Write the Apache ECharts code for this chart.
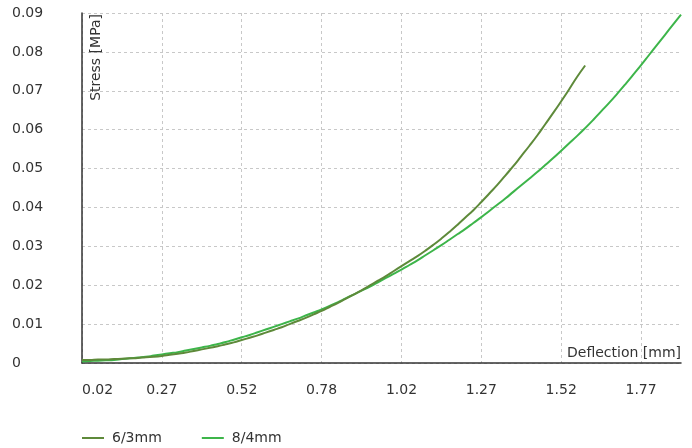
<!DOCTYPE html>
<html>
<head>
<meta charset="utf-8">
<script src="https://cdn.jsdelivr.net/npm/echarts@6/dist/echarts.min.js"></script>
<style>
html,body{margin:0;padding:0;background:#fff;}
#chart{width:692px;height:448px;}
</style>
</head>
<body>
<div id="chart"></div>
<script>
// Deflection [mm] categories
var deflection = ["0.02","0.05","0.07","0.10","0.12","0.15","0.17","0.20","0.22","0.25",
"0.27","0.30","0.32","0.35","0.37","0.40","0.42","0.45","0.47","0.50",
"0.52","0.55","0.57","0.60","0.62","0.65","0.68","0.70","0.73","0.75",
"0.78","0.80","0.82","0.85","0.87","0.90","0.92","0.95","0.97","1.00",
"1.02","1.05","1.07","1.10","1.12","1.15","1.17","1.20","1.22","1.25",
"1.27","1.30","1.32","1.35","1.37","1.40","1.42","1.45","1.47","1.50",
"1.52","1.55","1.57","1.60","1.62","1.65","1.67","1.70","1.72","1.75",
"1.77","1.80","1.82","1.85","1.87","1.90"];

// Stress [MPa], 6/3mm
var stress63 = [0.0008,0.0008,0.0009,0.0009,0.0010,0.0011,0.0012,0.0013,0.0015,0.0016,
0.0018,0.0021,0.0024,0.0027,0.0031,0.0035,0.0039,0.0043,0.0048,0.0053,
0.0059,0.0065,0.0071,0.0078,0.0085,0.0092,0.0100,0.0108,0.0116,0.0125,
0.0134,0.0144,0.0154,0.0165,0.0176,0.0187,0.0199,0.0211,0.0223,0.0236,
0.0249,0.0262,0.0275,0.0289,0.0304,0.0320,0.0337,0.0355,0.0374,0.0393,
0.0414,0.0436,0.0458,0.0482,0.0506,0.0532,0.0558,0.0585,0.0614,0.0643,
0.0673,0.0704,0.0736,0.0765];

// Stress [MPa], 8/4mm
var stress84 = [0.0004,0.0005,0.0006,0.0007,0.0008,0.0010,0.0012,0.0014,0.0016,0.0019,
0.0022,0.0025,0.0028,0.0032,0.0036,0.0040,0.0044,0.0049,0.0054,0.0060,
0.0066,0.0072,0.0079,0.0086,0.0093,0.0100,0.0107,0.0114,0.0122,0.0130,
0.0138,0.0147,0.0156,0.0166,0.0176,0.0186,0.0196,0.0207,0.0218,0.0229,
0.0240,0.0252,0.0264,0.0277,0.0290,0.0303,0.0317,0.0331,0.0345,0.0360,
0.0375,0.0391,0.0407,0.0423,0.0440,0.0457,0.0474,0.0491,0.0509,0.0527,
0.0546,0.0565,0.0584,0.0604,0.0625,0.0647,0.0669,0.0692,0.0716,0.0741,
0.0766,0.0792,0.0818,0.0844,0.0870,0.0896];

var seriesNames = ["6/3mm", "8/4mm"];
var colors = ["#5e8a3a", "#3db54a"];

var FONT = "DejaVu Sans";
var chart = echarts.init(document.getElementById('chart'));
chart.setOption({
  animation: false,
  color: colors,
  grid: {left: 82, right: 11, top: 13, bottom: 85, containLabel: false},
  legend: {
    data: seriesNames,
    left: 82,
    top: 431,
    padding: 0,
    icon: 'rect',
    itemWidth: 22,
    itemHeight: 2,
    itemGap: 40,
    textStyle: {fontFamily: FONT, fontSize: 14, color: '#333', padding: [0,0,0,3]}
  },
  xAxis: {
    type: 'category',
    data: deflection,
    boundaryGap: false,
    name: 'Deflection [mm]',
    nameLocation: 'end',
    nameGap: 0,
    nameTextStyle: {fontFamily: FONT, fontSize: 14, color: '#333', align: 'right', verticalAlign: 'bottom', padding: [0, 0, 3, 0]},
    axisLine: {lineStyle: {color: '#333', width: 1.5}},
    axisTick: {show: false},
    axisLabel: {interval: 9, margin: 20, fontFamily: FONT, fontSize: 14, color: '#333', alignMinLabel: 'left'},
    splitLine: {show: true, interval: 9, lineStyle: {color: '#c8c8c8', type: [3, 3], width: 1}}
  },
  yAxis: {
    type: 'value',
    min: 0,
    max: 0.09,
    interval: 0.01,
    name: 'Stress [MPa]',
    nameLocation: 'end',
    nameRotate: 90,
    nameGap: -1,
    nameTextStyle: {fontFamily: FONT, fontSize: 14, color: '#333', align: 'right', verticalAlign: 'top', padding: [7, 0, 0, 0]},
    axisLine: {show: true, lineStyle: {color: '#333', width: 1.5}},
    axisTick: {show: false},
    axisLabel: {margin: 70, align: 'left', fontFamily: FONT, fontSize: 14, color: '#333'},
    splitLine: {show: true, lineStyle: {color: '#c8c8c8', type: [3, 3], width: 1}}
  },
  series: [
    {name: seriesNames[0], type: 'line', data: stress63, smooth: true, showSymbol: false, lineStyle: {width: 2}, z: 3},
    {name: seriesNames[1], type: 'line', data: stress84, smooth: true, showSymbol: false, lineStyle: {width: 2}, z: 2}
  ]
});
</script>
</body>
</html>
